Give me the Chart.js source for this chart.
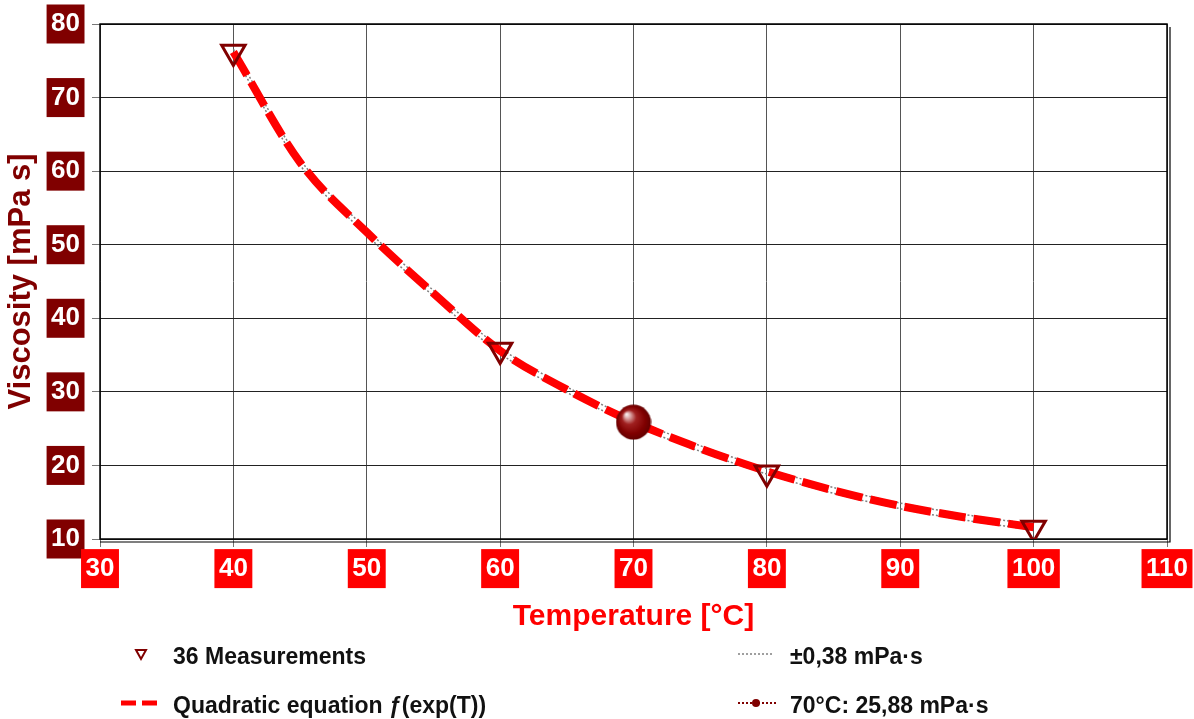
<!DOCTYPE html>
<html>
<head>
<meta charset="utf-8">
<script src="https://cdn.jsdelivr.net/npm/chart.js@4"></script>
<style>
  body { margin: 0; background: #fff; }
  #wrap { position: relative; width: 1194px; height: 719px; }
  .leg { position: absolute; font: bold 23px "Liberation Sans", Arial, sans-serif; color: #111; line-height: 26px; white-space: nowrap; }
  .icon { position: absolute; }
</style>
</head>
<body>
<div id="wrap">
  <canvas id="chart" width="1194" height="719"></canvas>

  <svg class="icon" style="left:134px; top:648px" width="14" height="14">
    <polygon points="2,2 12,2 7,11" fill="none" stroke="#800000" stroke-width="2"/>
  </svg>
  <div class="leg" style="left:173px; top:643px">36 Measurements</div>

  <svg class="icon" style="left:120px; top:698px" width="40" height="10">
    <line x1="1" y1="5" x2="38" y2="5" stroke="#ff0000" stroke-width="5" stroke-dasharray="15,6"/>
  </svg>
  <div class="leg" style="left:173px; top:692px">Quadratic equation ƒ(exp(T))</div>

  <svg class="icon" style="left:736px; top:649px" width="40" height="10">
    <line x1="2" y1="5" x2="38" y2="5" stroke="#808080" stroke-width="1.5" stroke-dasharray="2,2"/>
  </svg>
  <div class="leg" style="left:790px; top:643px">±0,38 mPa·s</div>

  <svg class="icon" style="left:736px; top:698px" width="42" height="10">
    <line x1="2" y1="5" x2="40" y2="5" stroke="#800000" stroke-width="2" stroke-dasharray="2,2"/>
    <circle cx="20" cy="5" r="4" fill="#800000"/>
  </svg>
  <div class="leg" style="left:790px; top:692px">70°C: 25,88 mPa·s</div>
</div>

<script>
  // measured points
  var measureTemps = [40, 60, 80, 100];
  var measureVisc = [76.2, 35.7, 19.0, 11.5];

  // fitted curve
  var fitTemps = [40, 45, 50, 55, 60, 65, 70, 75, 80, 85, 90, 95, 100];
  var fitVisc = [76.2, 61.2, 51.7, 43.4, 35.6, 30.3, 25.9, 22.3, 19.2, 16.6, 14.5, 12.9, 11.6];
  var tolerance = 0.38;

  // highlighted point
  var highlightTemp = [70];
  var highlightVisc = [25.88];

  var xTicks = [30, 40, 50, 60, 70, 80, 90, 100, 110];
  var yTicks = [10, 20, 30, 40, 50, 60, 70, 80];

  var FONT = '"Liberation Sans", Arial, sans-serif';
  Chart.defaults.font.family = FONT;

  function pairs(xs, ys) {
    var out = [];
    for (var i = 0; i < xs.length; i++) out.push({ x: xs[i], y: ys[i] });
    return out;
  }

  // shaded ball used for the 70 °C marker
  function makeBall(r) {
    var c = document.createElement('canvas');
    c.width = c.height = r * 2;
    var g = c.getContext('2d');
    var grad = g.createRadialGradient(r * 0.6, r * 0.55, 0, r, r, r);
    grad.addColorStop(0, '#ffffff');
    grad.addColorStop(0.15, '#e0b0b0');
    grad.addColorStop(0.4, '#a02020');
    grad.addColorStop(0.75, '#800000');
    grad.addColorStop(1, '#600000');
    g.fillStyle = grad;
    g.beginPath();
    g.arc(r, r, r - 0.5, 0, Math.PI * 2);
    g.fill();
    return c;
  }

  var tickPad = { x: 6, y: 12 };
  var tickLen = 8;
  var tickSize = 26;

  // coloured boxes behind tick labels
  var tickBoxes = {
    id: 'tickBoxes',
    beforeDraw: function (chart) {
      var ctx = chart.ctx;
      var ys = chart.scales.y, xs = chart.scales.x;
      ctx.save();
      ctx.font = 'bold ' + tickSize + 'px ' + FONT;
      ys.ticks.forEach(function (t) {
        var tw = ctx.measureText(t.label).width;
        var w = tw + 9;
        var cx = ys.right - tickLen - tickPad.y - tw / 2;
        var cy = ys.getPixelForValue(t.value);
        ctx.fillStyle = '#800000';
        ctx.fillRect(cx - w / 2, cy - 19.5, w, 39);
      });
      xs.ticks.forEach(function (t) {
        var tw = ctx.measureText(t.label).width;
        var w = tw + 9;
        var cx = xs.getPixelForValue(t.value);
        var cy = xs.top + tickLen + tickPad.x + tickSize * 1.2 / 2;
        ctx.fillStyle = '#ff0000';
        ctx.fillRect(cx - w / 2, cy - 19.5, w, 39);
      });
      ctx.restore();
    }
  };

  // plot frame with shadow line on right and bottom
  var frame = {
    id: 'frame',
    beforeDatasetsDraw: function (chart) {
      var a = chart.chartArea, ctx = chart.ctx;
      ctx.save();
      ctx.strokeStyle = '#000';
      ctx.lineWidth = 1.5;
      ctx.strokeRect(a.left, a.top, a.right - a.left, a.bottom - a.top);
      ctx.lineWidth = 1.2;
      ctx.beginPath();
      ctx.moveTo(a.left, a.bottom + 3);
      ctx.lineTo(a.right + 3, a.bottom + 3);
      ctx.lineTo(a.right + 3, a.top + 3);
      ctx.stroke();
      ctx.restore();
    }
  };

  var fitData = pairs(fitTemps, fitVisc);
  var upper = pairs(fitTemps, fitVisc.map(function (v) { return v + tolerance; }));
  var lower = pairs(fitTemps, fitVisc.map(function (v) { return v - tolerance; }));

  var ctx = document.getElementById('chart').getContext('2d');
  var chart = new Chart(ctx, {
    type: 'line',
    data: {
      datasets: [
        {
          label: '70°C: 25,88 mPa·s',
          data: pairs(highlightTemp, highlightVisc),
          showLine: false,
          pointStyle: makeBall(18),
          pointRadius: 18,
          order: 0
        },
        {
          label: '36 Measurements',
          data: pairs(measureTemps, measureVisc),
          showLine: false,
          pointStyle: 'triangle',
          pointRotation: 180,
          pointRadius: 13.5,
          pointBorderWidth: 3,
          pointBorderColor: '#800000',
          pointBackgroundColor: 'rgba(255,255,255,0)',
          order: 1
        },
        {
          label: 'Quadratic equation ƒ(exp(T))',
          data: fitData,
          borderColor: '#ff0000',
          borderWidth: 8,
          borderDash: [27, 8],
          borderCapStyle: 'butt',
          cubicInterpolationMode: 'monotone',
          pointRadius: 0,
          fill: false,
          order: 2
        },
        {
          label: '±0,38 mPa·s',
          data: upper,
          borderColor: '#808080',
          borderWidth: 1.5,
          borderDash: [2, 2],
          cubicInterpolationMode: 'monotone',
          pointRadius: 0,
          fill: false,
          order: 3
        },
        {
          label: '±0,38 mPa·s (lower)',
          data: lower,
          borderColor: '#808080',
          borderWidth: 1.5,
          borderDash: [2, 2],
          cubicInterpolationMode: 'monotone',
          pointRadius: 0,
          fill: false,
          order: 4
        }
      ]
    },
    options: {
      responsive: false,
      animation: false,
      devicePixelRatio: 1,
      layout: { padding: { left: 0, right: 27, top: 24, bottom: 80 } },
      plugins: {
        legend: { display: false },
        tooltip: { enabled: false }
      },
      scales: {
        x: {
          type: 'linear',
          min: 30,
          max: 110,
          afterBuildTicks: function (s) { s.ticks = xTicks.map(function (v) { return { value: v }; }); },
          afterFit: function (s) { s.height = 100; s.paddingLeft = 0; s.paddingRight = 0; },
          ticks: {
            color: '#fff',
            font: { size: tickSize, weight: 'bold' },
            padding: tickPad.x,
            maxRotation: 0
          },
          grid: { color: '#555', lineWidth: 1, tickLength: tickLen, tickColor: '#777' },
          border: { display: false },
          title: {
            display: true,
            text: 'Temperature [°C]',
            color: '#ff0000',
            font: { size: 30, weight: 'bold' },
            padding: { top: 0, bottom: 4 }
          }
        },
        y: {
          type: 'linear',
          min: 10,
          max: 80,
          afterBuildTicks: function (s) { s.ticks = yTicks.map(function (v) { return { value: v }; }); },
          afterFit: function (s) { s.width = 100; s.paddingTop = 0; s.paddingBottom = 0; },
          ticks: {
            color: '#fff',
            font: { size: tickSize, weight: 'bold' },
            padding: tickPad.y
          },
          grid: { color: '#222', lineWidth: 1, tickLength: tickLen, tickColor: '#777' },
          border: { display: false },
          title: {
            display: true,
            text: 'Viscosity [mPa s]',
            color: '#800000',
            font: { size: 31, weight: 'bold' },
            padding: { top: 3, bottom: 0 }
          }
        }
      }
    },
    plugins: [tickBoxes, frame]
  });
</script>
</body>
</html>
